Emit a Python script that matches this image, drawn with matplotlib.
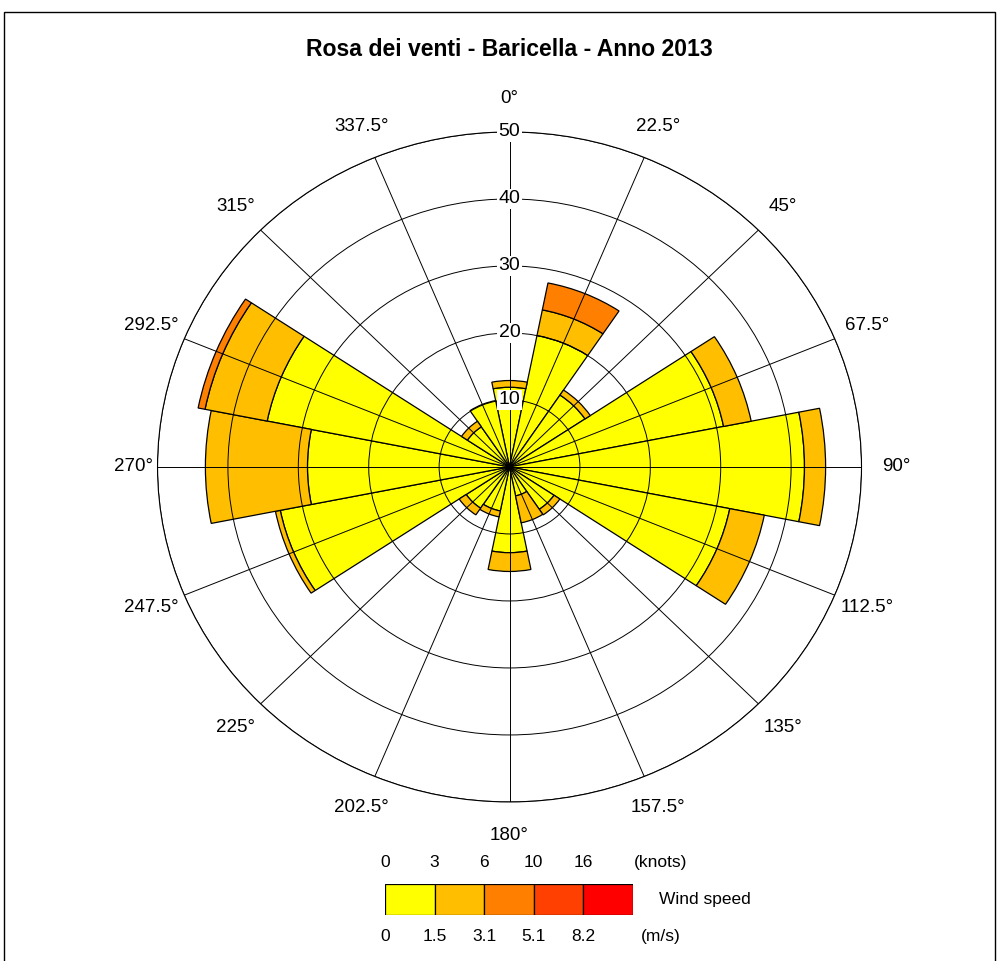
#! /usr/bin/env python

# wind rose - Baricella 2013
# stacked sectors on a polar axes, speed classes as a colour bar underneath

import numpy as np
import matplotlib
matplotlib.use('Agg')
import matplotlib.pyplot as plt
from matplotlib.patches import Rectangle

plt.rcParams['font.family'] = ['Liberation Sans', 'DejaVu Sans']

# direction of each sector (deg, clockwise from north)
directions = [0, 22.5, 45, 67.5, 90, 112.5, 135, 157.5,
              180, 202.5, 225, 247.5, 270, 292.5, 315, 337.5]

# length of each speed class within the sector
cls_0_15 = [11.9, 20.0, 12.9, 31.0, 41.9, 31.9, 7.6, 4.4,
            12.8, 6.7, 7.4, 33.2, 28.7, 35.1, 7.2, 10.1]
cls_15_31 = [1.0, 3.9, 0.9, 4.0, 3.0, 5.0, 1.0, 4.1,
             2.8, 0.9, 1.2, 0.7, 14.5, 9.0, 1.0, 0.0]
cls_31_51 = [0, 4.1, 0, 0, 0, 0, 0, 0,
             0, 0, 0, 0, 0, 1.0, 0, 0]
cls_51_82 = [0] * 16
cls_82_up = [0] * 16

classes = [cls_0_15, cls_15_31, cls_31_51, cls_51_82, cls_82_up]
colours = ['#FFFF00', '#FFBF00', '#FF8000', '#FF4000', '#FF0000']

knots = ['0', '3', '6', '10', '16']
ms = ['0', '1.5', '3.1', '5.1', '8.2']

rings = [10, 20, 30, 40, 50]
dir_labels = ['0°', '22.5°', '45°', '67.5°', '90°', '112.5°', '135°', '157.5°',
              '180°', '202.5°', '225°', '247.5°', '270°', '292.5°', '315°', '337.5°']

fig = plt.figure(figsize=(9.97, 9.61), dpi=100)

# frame round the whole figure
fig.patches.append(Rectangle((4 / 997, -0.02), 991 / 997, 1.02 - 12 / 961,
                             transform=fig.transFigure, fill=False,
                             edgecolor='black', linewidth=1.0))

fig.text(0.511, 1 - 49 / 961, 'Rosa dei venti - Baricella - Anno 2013',
         ha='center', va='center', fontsize=16.6, fontweight='bold')

ax = fig.add_axes([0.158, 0.1655, 0.7061, 0.6972], projection='polar')
ax.set_aspect('auto')   # the original rose is a bit squashed vertically
ax.set_theta_zero_location('N')
ax.set_theta_direction(-1)

theta = np.deg2rad(directions)
width = np.deg2rad(22.5)
bottom = np.zeros(len(directions))
for vals, col in zip(classes, colours):
    vals = np.array(vals, dtype=float)
    keep = vals > 0
    if keep.any():
        ax.bar(theta[keep], vals[keep], width=width, bottom=bottom[keep],
               color=col, edgecolor='black', linewidth=0.9, align='center')
    bottom = bottom + vals

ax.set_ylim(0, 50)
ax.set_thetagrids(directions, labels=[''] * 16)
ax.set_rgrids(rings, labels=[''] * len(rings))
ax.set_axisbelow(False)
ax.grid(True, color='black', linewidth=0.7, linestyle='-')
ax.spines['polar'].set_linewidth(0.8)

for r in rings:
    ax.text(0, r, str(r), ha='center', va='center', fontsize=14, zorder=5,
            bbox=dict(facecolor='white', edgecolor='none', pad=1))

for d, lab in zip(directions, dir_labels):
    rr = 53.4 if d == 270 else 55
    ax.text(np.deg2rad(d), rr, lab, ha='center', va='center', fontsize=13.5)

# speed class legend
lax = fig.add_axes([385 / 997, 46 / 961, 248 / 997, 31 / 961])
lax.bar(np.arange(5), [1] * 5, width=1, align='edge', color=colours,
        edgecolor='black', linewidth=0.9)
lax.set_xlim(0, 5)
lax.set_ylim(0, 1)
lax.axis('off')
for i in range(5):
    lax.text(i, 1.69, knots[i], ha='center', va='center', fontsize=12.5)
    lax.text(i, -0.70, ms[i], ha='center', va='center', fontsize=12.5)
lax.text(5.55, 1.69, '(knots)', ha='center', va='center', fontsize=12.5)
lax.text(5.55, -0.70, '(m/s)', ha='center', va='center', fontsize=12.5)
lax.text(5.52, 0.5, 'Wind speed', ha='left', va='center', fontsize=12.5)

plt.savefig('out.png', dpi=100)
